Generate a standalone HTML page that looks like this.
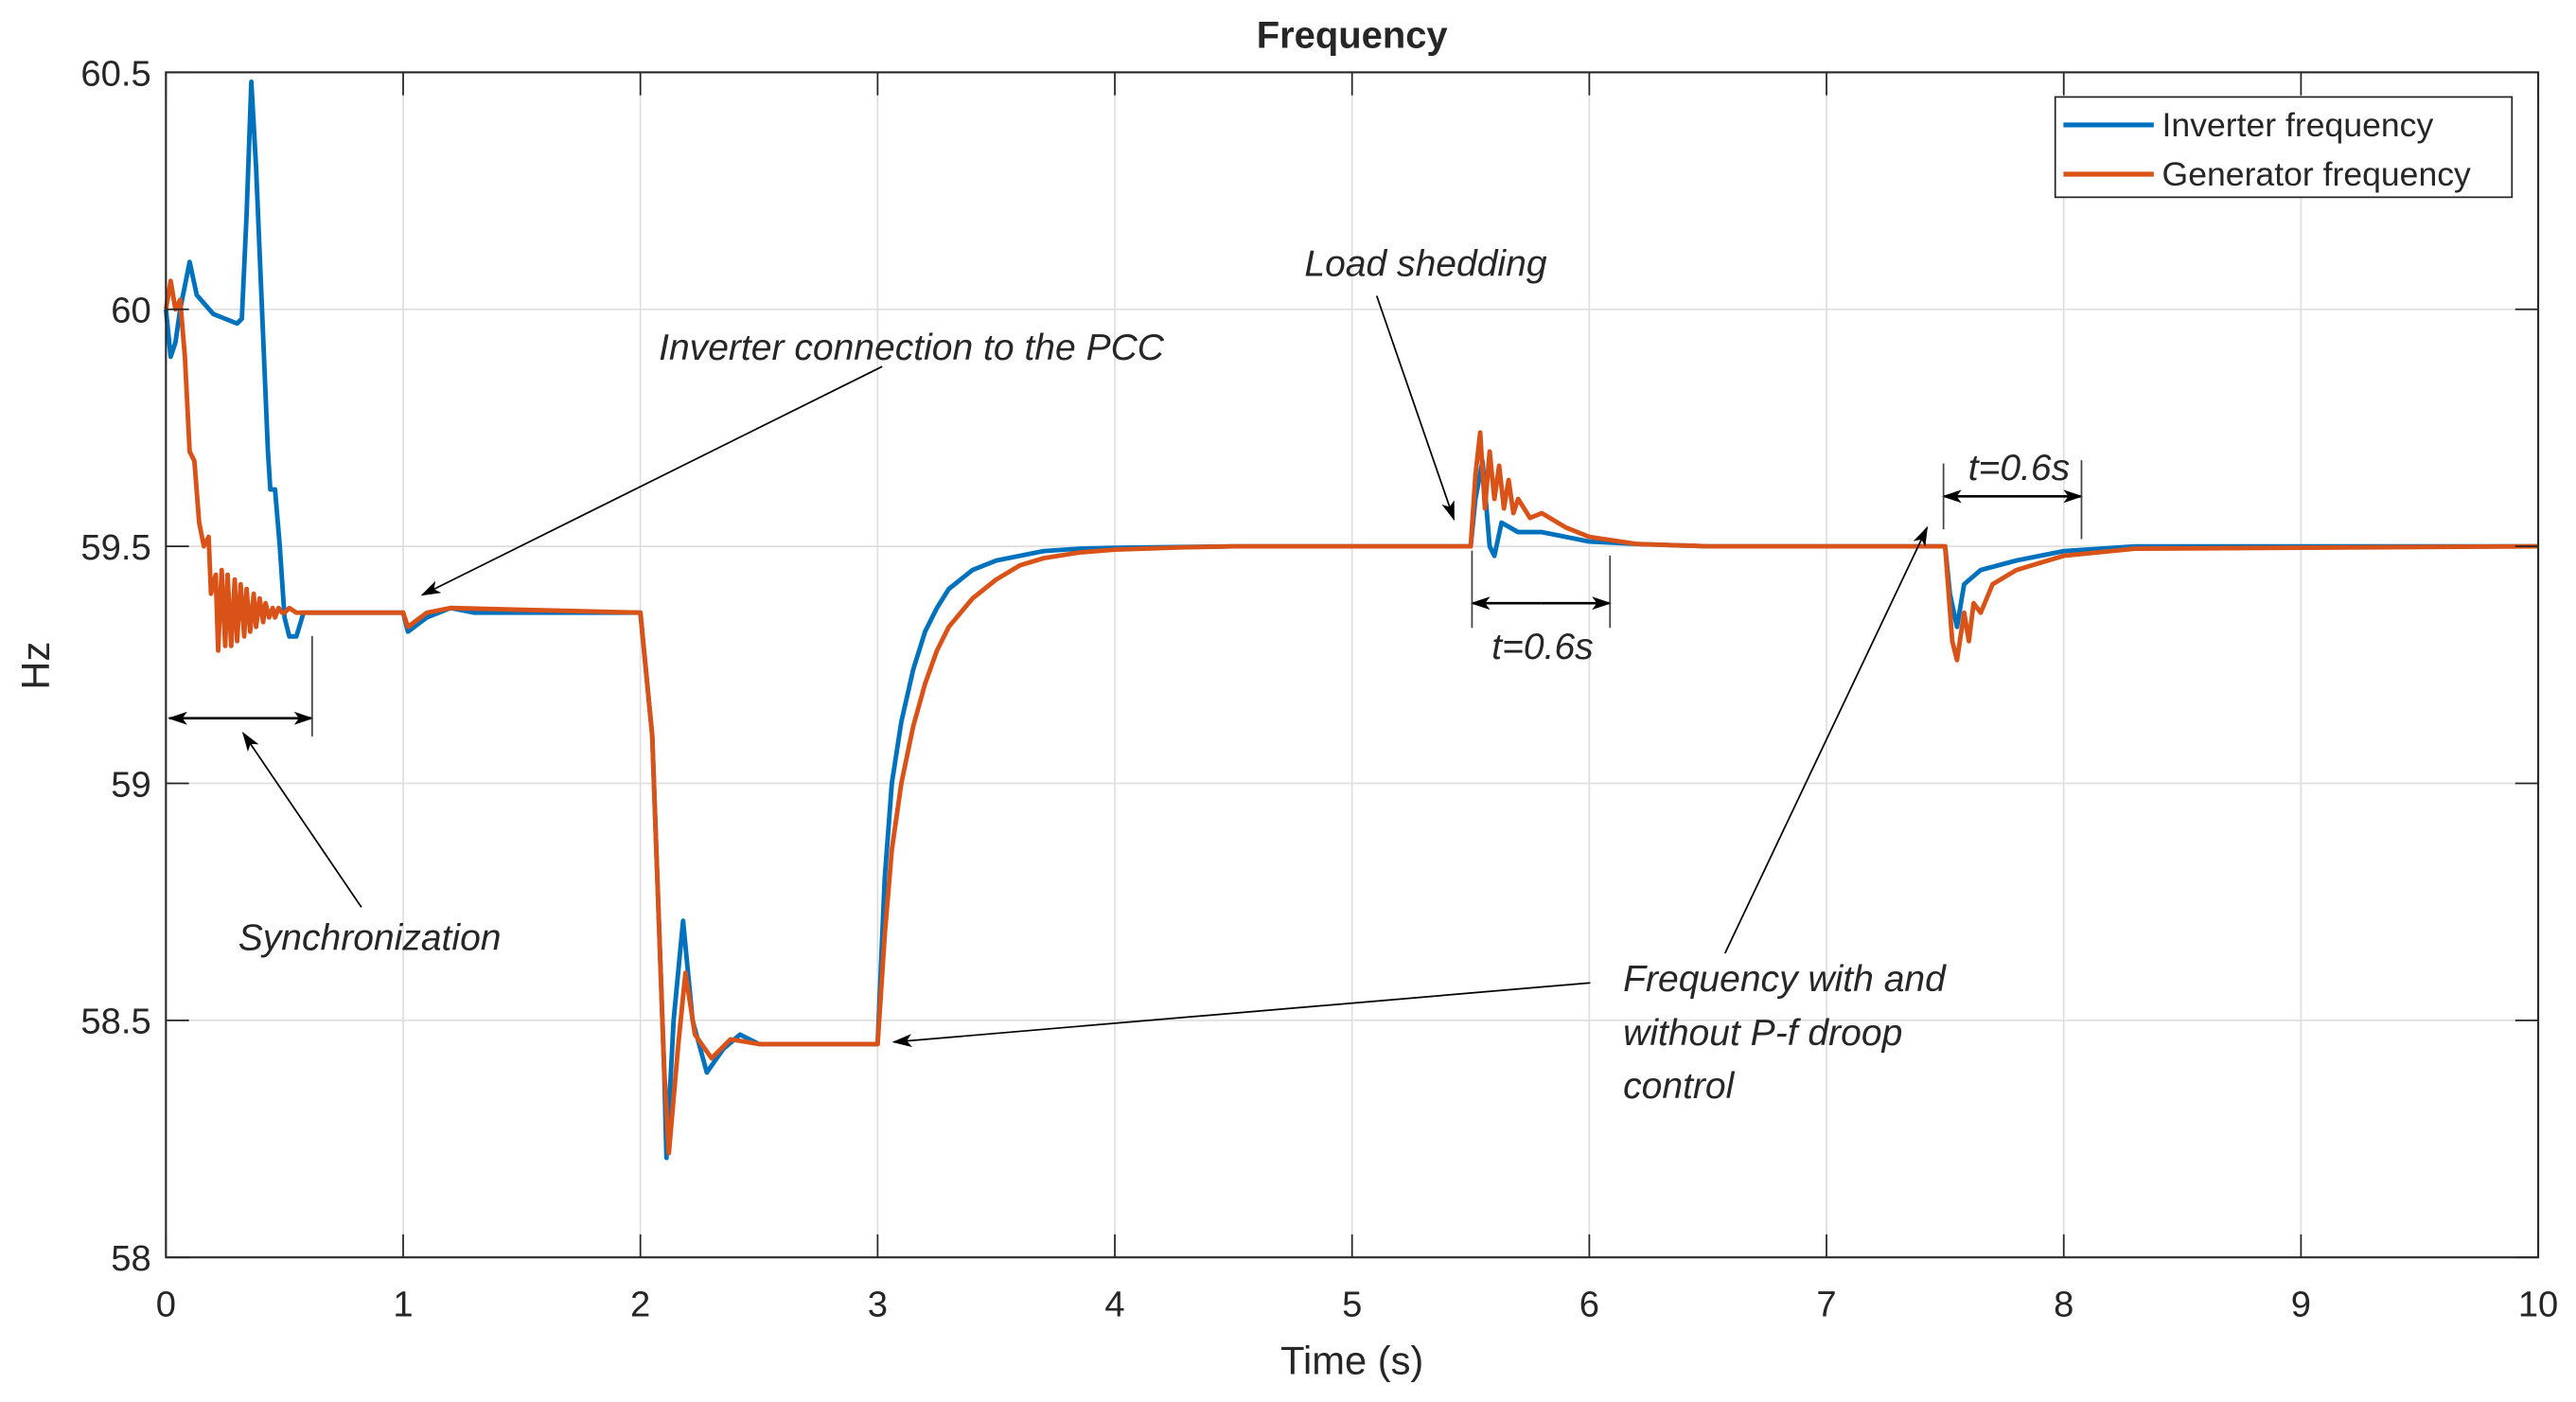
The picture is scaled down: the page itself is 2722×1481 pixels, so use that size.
<!DOCTYPE html>
<html><head><meta charset="utf-8"><title>Frequency</title>
<style>html,body{margin:0;padding:0;background:#fff;}svg{display:block;}
text{font-family:"Liberation Sans",Arial,sans-serif;fill:#262626;}</style></head>
<body>
<svg id="chart" width="2722" height="1481" viewBox="0 0 1568 853" preserveAspectRatio="none" xmlns="http://www.w3.org/2000/svg">
<g id="grid"></g>
<g id="series"></g>
<g id="axes"></g>
<text x="823" y="29" text-anchor="middle" font-size="23" font-weight="bold" fill="#000">Frequency</text>
<text x="823" y="836" text-anchor="middle" font-size="24">Time (s)</text>
<text transform="translate(30,405) rotate(-90)" text-anchor="middle" font-size="24">Hz</text>
<g>
<rect x="1251" y="59" width="278" height="61" fill="#fff" stroke="#262626" stroke-width="1"/>
<line x1="1256" y1="76" x2="1311" y2="76" stroke="#0072BD" stroke-width="3"/>
<text x="1316" y="83" font-size="20.5">Inverter frequency</text>
<line x1="1256" y1="106" x2="1311" y2="106" stroke="#D95319" stroke-width="3"/>
<text x="1316" y="113" font-size="20.5">Generator frequency</text>
</g>
<defs><marker id="ah" markerWidth="12" markerHeight="8" refX="11" refY="4" orient="auto" markerUnits="userSpaceOnUse"><path d="M0,0 L12,4 L0,8 L3,4 Z" fill="#000"/></marker></defs>
<g font-style="italic" font-size="22.5">
<text x="794" y="168" font-style="italic">Load shedding</text>
<line x1="838" y1="180" x2="885" y2="316" stroke="#000" stroke-width="1" marker-end="url(#ah)"/>
<text x="401" y="219" font-style="italic">Inverter connection to the PCC</text>
<line x1="537" y1="223" x2="257" y2="362" stroke="#000" stroke-width="1" marker-end="url(#ah)"/>
<text x="145" y="578" font-style="italic">Synchronization</text>
<line x1="220" y1="552" x2="148" y2="446" stroke="#000" stroke-width="1" marker-end="url(#ah)"/>
<text x="988" y="603" font-style="italic">Frequency with and</text>
<text x="988" y="636" font-style="italic">without P-f droop</text>
<text x="988" y="668" font-style="italic">control</text>
<line x1="968" y1="598" x2="544" y2="634" stroke="#000" stroke-width="1" marker-end="url(#ah)"/>
<line x1="1050" y1="580" x2="1173" y2="321" stroke="#000" stroke-width="1" marker-end="url(#ah)"/>
<line x1="146" y1="437" x2="103" y2="437" stroke="#000" stroke-width="1.5" marker-end="url(#ah)"/>
<line x1="146" y1="437" x2="190" y2="437" stroke="#000" stroke-width="1.5" marker-end="url(#ah)"/>
<line x1="190" y1="387" x2="190" y2="448" stroke="#444" stroke-width="1"/>
<line x1="938" y1="367" x2="896" y2="367" stroke="#000" stroke-width="1.5" marker-end="url(#ah)"/>
<line x1="938" y1="367" x2="980" y2="367" stroke="#000" stroke-width="1.5" marker-end="url(#ah)"/>
<line x1="896" y1="335" x2="896" y2="382" stroke="#444" stroke-width="1"/>
<line x1="980" y1="338" x2="980" y2="382" stroke="#444" stroke-width="1"/>
<text x="908" y="401" font-style="italic">t=0.6s</text>
<line x1="1225" y1="302" x2="1183" y2="302" stroke="#000" stroke-width="1.5" marker-end="url(#ah)"/>
<line x1="1225" y1="302" x2="1267" y2="302" stroke="#000" stroke-width="1.5" marker-end="url(#ah)"/>
<line x1="1183" y1="282" x2="1183" y2="322" stroke="#444" stroke-width="1"/>
<line x1="1267" y1="280" x2="1267" y2="328" stroke="#444" stroke-width="1"/>
<text x="1198" y="292" font-style="italic">t=0.6s</text>
</g>
</svg>
<script>
const xTicks = [0,1,2,3,4,5,6,7,8,9,10];
const yTicks = [58,58.5,59,59.5,60,60.5];
const yTickLabels = ["58","58.5","59","59.5","60","60.5"];
const invT = [0,0.02,0.04,0.06,0.08,0.1,0.13,0.2,0.3,0.32,0.34,0.36,0.38,0.43,0.44,0.46,0.48,0.5,0.52,0.55,0.58,0.7,1.0,1.02,1.1,1.2,1.3,2.0,2.05,2.1,2.11,2.14,2.18,2.22,2.28,2.35,2.42,2.5,3.0,3.03,3.06,3.1,3.15,3.2,3.25,3.3,3.4,3.5,3.6,3.7,3.85,4.0,4.5,5.5,5.52,5.55,5.58,5.6,5.63,5.7,5.8,6.0,6.2,6.5,7.5,7.52,7.55,7.58,7.65,7.8,8.0,8.3,10];
const invF = [60.0,59.9,59.93,60.0,60.05,60.1,60.03,59.99,59.97,59.98,60.2,60.48,60.3,59.7,59.62,59.62,59.5,59.35,59.31,59.31,59.36,59.36,59.36,59.32,59.35,59.37,59.36,59.36,59.1,58.4,58.21,58.5,58.71,58.5,58.39,58.44,58.47,58.45,58.45,58.8,59.0,59.13,59.24,59.32,59.37,59.41,59.45,59.47,59.48,59.49,59.495,59.497,59.5,59.5,59.6,59.68,59.5,59.48,59.55,59.53,59.53,59.51,59.505,59.5,59.5,59.4,59.33,59.42,59.45,59.47,59.49,59.5,59.5];
const genT = [0,0.02,0.04,0.06,0.08,0.1,0.12,0.14,0.16,0.18,0.19,0.21,0.22,0.235,0.25,0.26,0.275,0.29,0.3,0.315,0.33,0.34,0.355,0.37,0.38,0.395,0.41,0.42,0.435,0.45,0.46,0.475,0.49,0.5,0.52,0.55,0.6,1.0,1.02,1.1,1.2,2.0,2.05,2.1,2.12,2.16,2.19,2.23,2.3,2.38,2.5,3.0,3.03,3.06,3.1,3.15,3.2,3.25,3.3,3.4,3.5,3.6,3.7,3.85,4.0,4.3,4.5,5.5,5.52,5.54,5.56,5.58,5.6,5.62,5.64,5.66,5.68,5.7,5.75,5.8,5.9,6.0,6.2,6.5,7.5,7.53,7.55,7.58,7.6,7.62,7.65,7.7,7.8,8.0,8.3,10];
const genF = [60.0,60.06,60.0,60.02,59.9,59.7,59.68,59.55,59.5,59.52,59.4,59.44,59.28,59.45,59.29,59.44,59.29,59.43,59.3,59.42,59.31,59.41,59.32,59.4,59.33,59.39,59.34,59.38,59.35,59.37,59.35,59.37,59.36,59.36,59.37,59.36,59.36,59.36,59.33,59.36,59.37,59.36,59.1,58.4,58.22,58.45,58.6,58.47,58.42,58.46,58.45,58.45,58.68,58.86,59.0,59.12,59.21,59.28,59.33,59.39,59.43,59.46,59.475,59.487,59.493,59.498,59.5,59.5,59.65,59.74,59.58,59.7,59.6,59.67,59.58,59.64,59.57,59.6,59.56,59.57,59.54,59.52,59.505,59.5,59.5,59.3,59.26,59.36,59.3,59.38,59.36,59.42,59.45,59.48,59.495,59.5];

const X0=101,X1=1545,Y0=765,Y1=44;
const xs = t => X0 + (t-0)/(10-0)*(X1-X0);
const ys = f => Y0 - (f-58)/(60.5-58)*(Y0-Y1);
const NS="http://www.w3.org/2000/svg";
const grid=document.getElementById('grid'), axes=document.getElementById('axes'), series=document.getElementById('series');
function mk(tag, attrs, parent){const e=document.createElementNS(NS,tag);for(const k in attrs)e.setAttribute(k,attrs[k]);parent.appendChild(e);return e;}

xTicks.forEach(t=>{
  const x=xs(t);
  const g=mk('line',{x1:x,y1:Y1,x2:x,y2:Y0,stroke:'#dfdfdf','stroke-width':1},grid);
  
  
  const tb=mk('line',{x1:x,y1:Y0,x2:x,y2:Y0-14,stroke:'#262626','stroke-width':1},axes);
  
  
  const tt=mk('line',{x1:x,y1:Y1,x2:x,y2:Y1+14,stroke:'#262626','stroke-width':1},axes);
  
  
  const l=mk('text',{x:x,y:801,'text-anchor':'middle','font-size':22},axes);
  l.textContent=String(t);
  
  
});
yTicks.forEach((f,i)=>{
  const y=ys(f);
  const g=mk('line',{x1:X0,y1:y,x2:X1,y2:y,stroke:'#dfdfdf','stroke-width':1},grid);
  
  
  const tl=mk('line',{x1:X0,y1:y,x2:X0+14,y2:y,stroke:'#262626','stroke-width':1},axes);
  
  
  const tr=mk('line',{x1:X1,y1:y,x2:X1-14,y2:y,stroke:'#262626','stroke-width':1},axes);
  
  
  const l=mk('text',{x:92,y:y+8,'text-anchor':'end','font-size':22},axes);
  l.textContent=yTickLabels[i];
  
  
});
const box=mk('rect',{x:X0,y:Y1,width:X1-X0,height:Y0-Y1,fill:'none',stroke:'#262626','stroke-width':1.2},axes);



function pts(T,F){return T.map((t,i)=>xs(t).toFixed(2)+','+ys(F[i]).toFixed(2)).join(' ');}
const inv=mk('polyline',{points:pts(invT,invF),fill:'none',stroke:'#0072BD','stroke-width':2.8,'stroke-linejoin':'round'},series);


const gen=mk('polyline',{points:pts(genT,genF),fill:'none',stroke:'#D95319','stroke-width':2.8,'stroke-linejoin':'round'},series);


</script>
</body></html>
